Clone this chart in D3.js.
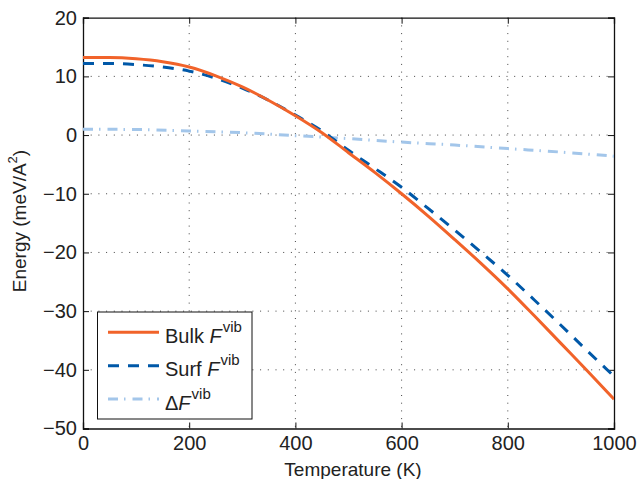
<!DOCTYPE html>
<html><head><meta charset="utf-8">
<script src="https://cdn.jsdelivr.net/npm/d3@7"></script>
<style>body{margin:0;background:#fff;} text{font-family:"Liberation Sans",Arial,Helvetica,sans-serif;fill:#222;}</style>
</head><body><svg id="c" width="640" height="479"></svg>
<script>
const temps = [0,50,100,150,200,250,300,350,400,450,500,550,600,650,700,750,800,850,900,950,1000];
const bulk  = [13.2,13.2,13.0,12.5,11.6,10.1,8.2,5.9,3.3,0.4,-3.0,-6.4,-10.0,-13.8,-17.8,-21.9,-26.2,-30.8,-35.5,-40.2,-45.0];
const surf  = [12.2,12.2,12.0,11.6,10.9,9.7,8.0,5.9,3.4,0.7,-2.6,-5.7,-8.9,-12.5,-16.2,-20.0,-23.9,-28.1,-32.4,-36.8,-41.1];
const deltaT = [0,100,200,300,400,500,600,700,800,900,1000];
const delta  = [1.0,0.95,0.7,0.4,-0.1,-0.6,-1.2,-1.7,-2.3,-2.9,-3.6];
const xTicks = [0,200,400,600,800,1000];
const yTicks = [-50,-40,-30,-20,-10,0,10,20];

const svg = d3.select("#c");
const L=83, R=614, T=17.7, B=428.5;
const x = d3.scaleLinear().domain([0,1000]).range([L,R]);
const y = d3.scaleLinear().domain([-50,20]).range([B,T]);

// grid
const g = svg.append("g");
xTicks.slice(1,-1).forEach(t=>g.append("line").attr("x1",x(t)).attr("x2",x(t)).attr("y1",T).attr("y2",B)
  .attr("stroke","#444").attr("stroke-width",1).attr("stroke-dasharray","1,6.7"));
yTicks.slice(1,-1).forEach(t=>g.append("line").attr("x1",L).attr("x2",R).attr("y1",y(t)).attr("y2",y(t))
  .attr("stroke","#444").attr("stroke-width",1).attr("stroke-dasharray","1,6.7"));

// axes
const fmt = d=>d<0?"\u2212"+Math.abs(d):String(d);
const ax = svg.append("g").attr("transform",`translate(0,${B})`).call(d3.axisBottom(x).tickValues(xTicks).tickSize(-6).tickPadding(11).tickFormat(fmt));
const ay = svg.append("g").attr("transform",`translate(${L},0)`).call(d3.axisLeft(y).tickValues(yTicks).tickSize(-6).tickPadding(6).tickFormat(fmt));
svg.append("g").attr("transform",`translate(0,${T})`).call(d3.axisTop(x).tickValues(xTicks).tickSize(-6).tickFormat(""));
svg.append("g").attr("transform",`translate(${R},0)`).call(d3.axisRight(y).tickValues(yTicks).tickSize(-6).tickFormat(""));
svg.selectAll(".domain").attr("stroke","#111").attr("stroke-width",1.3);
svg.selectAll(".tick line").attr("stroke","#111");
svg.selectAll(".tick text").style("font-size","20px").attr("fill","#222");
ax.selectAll(".tick text").attr("dy","0.5em");

// lines
const line = d3.line().x(d=>x(d[0])).y(d=>y(d[1])).curve(d3.curveMonotoneX);
svg.append("clipPath").attr("id","cp").append("rect").attr("x",L).attr("y",T).attr("width",R-L).attr("height",B-T);
const lg = svg.append("g").attr("clip-path","url(#cp)");
const cB="#f1632a", cS="#0058a8", cD="#a3c6ea";
const dS="11,9", dD="10,6,1.5,7";
lg.append("path").datum(delta.map((v,i)=>[deltaT[i],v])).attr("d",line).attr("fill","none").attr("stroke",cD).attr("stroke-width",3).attr("stroke-dasharray",dD);
lg.append("path").datum(surf.map((v,i)=>[temps[i],v])).attr("d",line).attr("fill","none").attr("stroke",cS).attr("stroke-width",3).attr("stroke-dasharray",dS);
lg.append("path").datum(bulk.map((v,i)=>[temps[i],v])).attr("d",line).attr("fill","none").attr("stroke",cB).attr("stroke-width",3);

// axis titles
svg.append("text").attr("x",353).attr("y",476).attr("text-anchor","middle").style("font-size","19px").text("Temperature (K)");
const yt = svg.append("text").attr("transform",`translate(26,221) rotate(-90)`).attr("text-anchor","middle").style("font-size","19px");
yt.append("tspan").text("Energy (meV/A");
yt.append("tspan").attr("dy",-9).style("font-size","13px").text("2");
yt.append("tspan").attr("dy",9).text(")");

// legend
const lgd = svg.append("g");
lgd.append("rect").attr("x",97.5).attr("y",312).attr("width",154.5).attr("height",107).attr("fill","#fff").attr("stroke","#111").attr("stroke-width",1);
const items = [["Bulk ",cB,null],["Surf ",cS,dS],["\u0394",cD,dD]];
items.forEach((it,i)=>{
  const yy = 332.3 + i*33.4;
  lgd.append("line").attr("x1",108).attr("x2",159).attr("y1",yy).attr("y2",yy).attr("stroke",it[1]).attr("stroke-width",3).attr("stroke-dasharray",it[2]);
  const t = lgd.append("text").attr("x",165).attr("y",yy+10.5).style("font-size","20px");
  t.append("tspan").text(it[0]);
  t.append("tspan").style("font-style","italic").text("F");
  t.append("tspan").attr("dx",1).attr("dy",-11).style("font-size","15px").text("vib");
});
</script></body></html>
